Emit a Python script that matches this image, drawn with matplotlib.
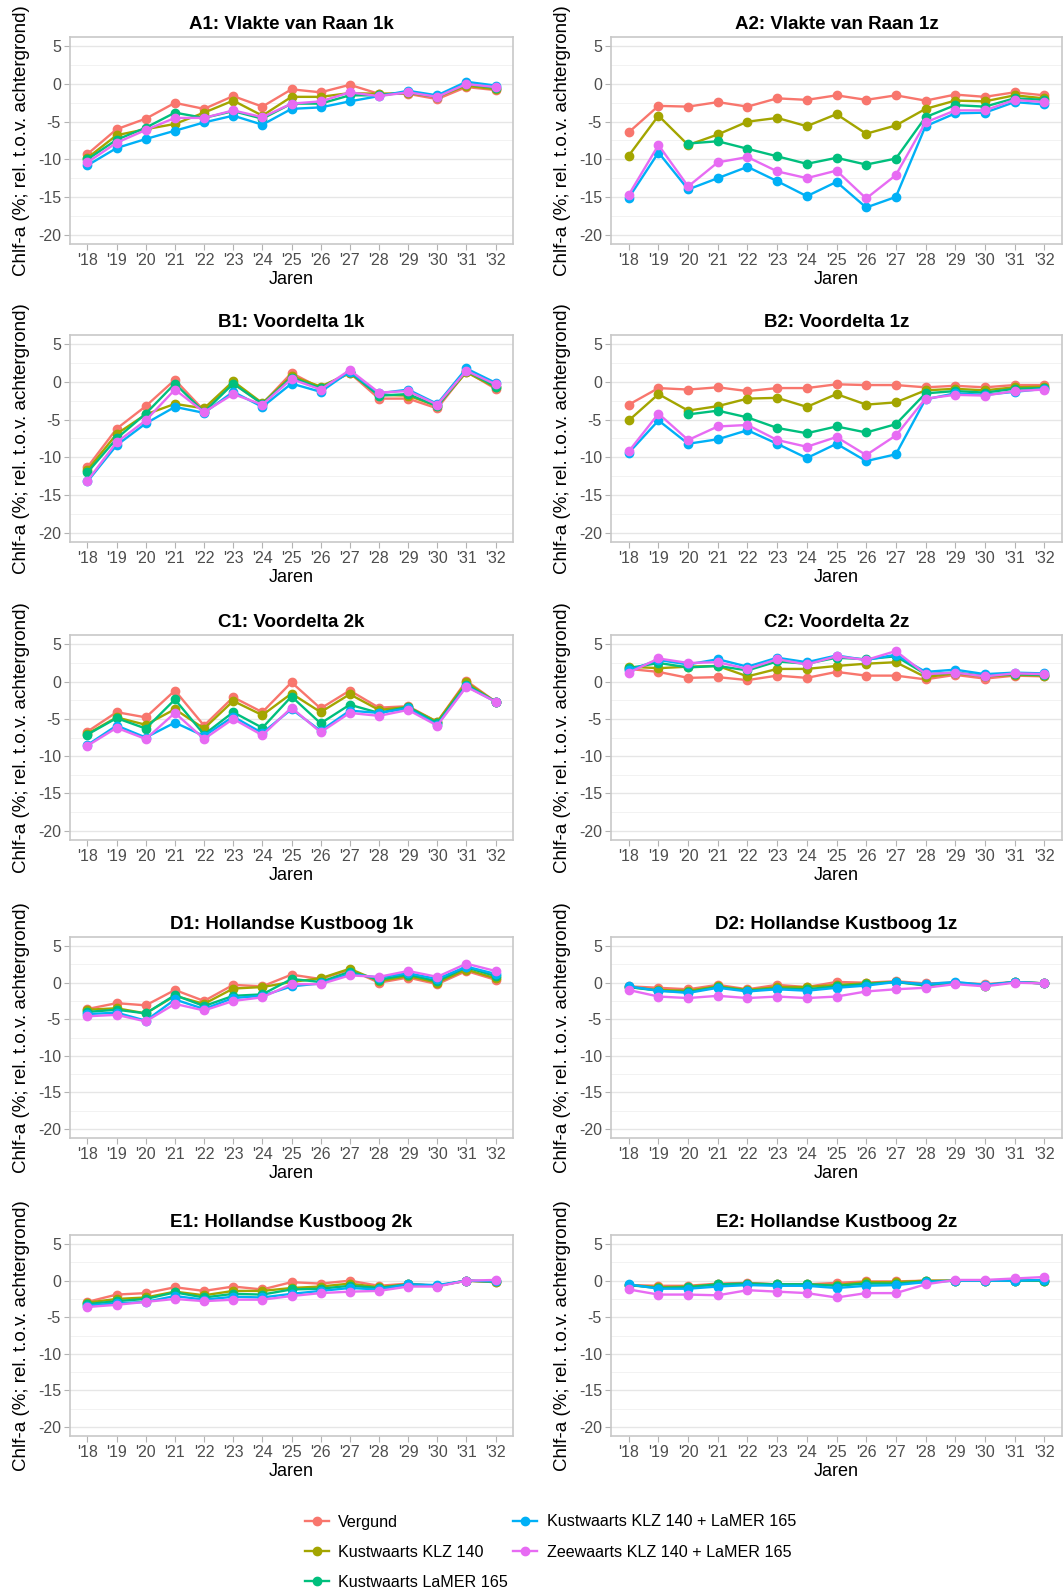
import numpy as np
import matplotlib.pyplot as plt

plt.rcParams['font.family'] = ['Liberation Sans', 'DejaVu Sans']
plt.rcParams['axes.unicode_minus'] = False

# data
years = ["'18", "'19", "'20", "'21", "'22", "'23", "'24", "'25", "'26", "'27", "'28", "'29", "'30", "'31", "'32"]
series = ["Vergund", "Kustwaarts KLZ 140", "Kustwaarts LaMER 165",
          "Kustwaarts KLZ 140 + LaMER 165", "Zeewaarts KLZ 140 + LaMER 165"]
colors = ["#F8766D", "#A3A500", "#00BF7D", "#00B0F6", "#E76BF3"]
nan = np.nan

A1 = [[-9.3, -6.0, -4.6, -2.5, -3.3, -1.6, -3.0, -0.7, -1.1, -0.1, -1.3, -1.3, -2.0, -0.4, -0.8],
      [-9.8, -6.8, -6.0, -5.3, -3.8, -2.2, -4.2, -1.7, -1.7, -1.2, -1.3, -1.2, -1.7, -0.2, -0.7],
      [-10.0, -7.4, -5.8, -3.8, -4.5, -3.6, -4.6, -2.6, -2.6, -1.5, -1.5, -1.1, -1.7, 0.0, -0.5],
      [-10.8, -8.5, -7.3, -6.2, -5.1, -4.2, -5.4, -3.3, -3.1, -2.3, -1.6, -0.9, -1.5, 0.3, -0.2],
      [-10.4, -7.8, -6.1, -4.5, -4.5, -3.5, -4.4, -2.6, -2.3, -1.1, -1.6, -1.1, -1.7, 0.0, -0.4]]
A2 = [[-6.4, -2.9, -3.0, -2.4, -3.0, -1.9, -2.1, -1.5, -2.1, -1.5, -2.2, -1.4, -1.7, -1.1, -1.5],
      [-9.5, -4.2, -8.1, -6.7, -5.0, -4.5, -5.6, -4.0, -6.6, -5.5, -3.3, -2.2, -2.3, -1.5, -1.9],
      [nan, nan, -7.9, -7.6, -8.6, -9.6, -10.6, -9.8, -10.7, -9.9, -4.4, -2.8, -3.0, -1.9, -2.1],
      [-15.1, -9.1, -14.0, -12.5, -11.0, -12.9, -14.9, -13.0, -16.4, -15.0, -5.6, -3.9, -3.8, -2.4, -2.7],
      [-14.7, -8.1, -13.6, -10.4, -9.7, -11.6, -12.5, -11.5, -15.2, -12.1, -5.1, -3.5, -3.5, -2.1, -2.4]]
B1 = [[-11.3, -6.2, -3.2, 0.3, -3.8, -0.2, -2.9, 1.2, -0.8, 1.2, -2.2, -2.2, -3.5, 1.4, -0.9],
      [-11.7, -6.9, -4.3, -2.9, -3.5, 0.1, -2.8, 0.8, -0.6, 1.2, -1.7, -1.8, -3.2, 1.3, -0.7],
      [-12.0, -7.5, -4.2, -0.2, -4.0, -0.2, -2.9, 0.6, -0.8, 1.3, -1.8, -1.6, -3.2, 1.5, -0.6],
      [-13.2, -8.4, -5.5, -3.3, -4.1, -1.3, -3.3, -0.2, -1.3, 1.4, -1.5, -1.0, -2.9, 1.8, -0.1],
      [-13.1, -8.0, -5.1, -1.0, -4.0, -1.6, -3.0, 0.4, -1.0, 1.6, -1.4, -1.2, -3.0, 1.5, -0.3]]
B2 = [[-3.0, -0.8, -1.0, -0.7, -1.2, -0.8, -0.8, -0.3, -0.4, -0.4, -0.7, -0.5, -0.7, -0.4, -0.4],
      [-5.1, -1.6, -3.8, -3.2, -2.2, -2.1, -3.3, -1.6, -3.0, -2.7, -1.1, -0.9, -1.1, -0.7, -0.6],
      [nan, nan, -4.3, -3.8, -4.7, -6.1, -6.8, -5.9, -6.7, -5.6, -1.5, -1.2, -1.4, -0.9, -0.8],
      [-9.4, -5.1, -8.2, -7.6, -6.4, -8.2, -10.1, -8.2, -10.5, -9.6, -2.3, -1.5, -1.7, -1.3, -0.9],
      [-9.2, -4.2, -7.7, -5.9, -5.7, -7.7, -8.6, -7.3, -9.7, -7.1, -2.2, -1.7, -1.8, -1.2, -1.0]]
C1 = [[-6.7, -4.1, -4.8, -1.2, -5.9, -2.1, -4.1, -0.1, -3.6, -1.2, -3.5, -3.3, -5.4, 0.1, -2.7],
      [-7.0, -4.8, -5.8, -3.7, -6.3, -2.6, -4.5, -1.6, -4.1, -1.7, -3.8, -3.4, -5.4, -0.1, -2.7],
      [-7.1, -4.9, -6.3, -2.4, -7.1, -4.1, -6.2, -2.0, -5.6, -3.1, -4.2, -3.4, -5.6, -0.4, -2.7],
      [-8.5, -5.9, -7.5, -5.5, -7.3, -4.7, -6.9, -3.7, -6.6, -3.9, -4.2, -3.6, -5.8, -0.6, -2.7],
      [-8.6, -6.2, -7.7, -4.2, -7.7, -5.0, -7.2, -3.5, -6.8, -4.2, -4.6, -3.8, -5.9, -0.7, -2.7]]
C2 = [[1.7, 1.3, 0.5, 0.6, 0.2, 0.8, 0.5, 1.3, 0.8, 0.8, 0.3, 0.9, 0.4, 0.8, 0.7],
      [2.0, 1.8, 2.0, 2.1, 0.7, 1.7, 1.7, 2.1, 2.4, 2.6, 0.6, 1.1, 0.7, 0.9, 0.8],
      [1.8, 2.5, 1.9, 2.1, 1.5, 2.7, 2.4, 3.2, 3.0, 3.4, 1.0, 1.2, 0.8, 1.0, 0.9],
      [1.5, 2.9, 2.3, 3.0, 2.0, 3.2, 2.6, 3.5, 2.9, 3.6, 1.3, 1.6, 1.0, 1.2, 1.1],
      [1.2, 3.1, 2.5, 2.6, 1.7, 3.0, 2.3, 3.4, 2.9, 4.1, 1.0, 1.2, 0.7, 1.1, 1.0]]
D1 = [[-3.6, -2.8, -3.1, -1.0, -2.5, -0.3, -0.5, 1.1, 0.5, 1.8, 0.0, 0.7, -0.2, 1.6, 0.4],
      [-3.7, -3.5, -4.2, -1.8, -2.9, -0.8, -0.6, 0.1, 0.6, 1.9, 0.2, 0.9, 0.0, 1.8, 0.6],
      [-4.0, -3.7, -4.2, -1.7, -3.2, -1.8, -1.6, 0.5, 0.1, 1.5, 0.4, 1.1, 0.2, 2.1, 0.9],
      [-4.3, -4.1, -5.2, -2.3, -3.6, -2.1, -1.8, -0.5, -0.1, 1.2, 0.7, 1.3, 0.5, 2.2, 1.2],
      [-4.6, -4.4, -5.3, -2.9, -3.8, -2.5, -2.0, -0.2, -0.2, 1.0, 0.8, 1.6, 0.8, 2.6, 1.6]]
D2 = [[-0.5, -0.7, -0.9, -0.3, -0.9, -0.3, -0.6, 0.1, 0.0, 0.2, -0.1, 0.0, -0.2, 0.1, -0.1],
      [-0.6, -1.0, -1.1, -0.5, -1.0, -0.6, -0.6, -0.3, -0.1, 0.1, -0.3, 0.0, -0.4, 0.1, -0.1],
      [-0.6, -1.1, -1.3, -0.6, -1.1, -0.8, -0.9, -0.5, -0.2, 0.1, -0.4, 0.0, -0.4, 0.1, -0.1],
      [-0.5, -1.1, -1.4, -0.7, -1.2, -0.9, -1.1, -0.7, -0.4, 0.1, -0.2, 0.1, -0.3, 0.1, -0.1],
      [-1.0, -1.9, -2.1, -1.8, -2.1, -1.9, -2.1, -1.9, -1.2, -0.9, -0.7, -0.2, -0.5, 0.0, -0.1]]
E1 = [[-2.9, -1.9, -1.7, -0.9, -1.4, -0.8, -1.2, -0.2, -0.4, 0.0, -0.7, -0.4, -0.7, 0.0, -0.2],
      [-3.0, -2.5, -2.3, -1.5, -2.0, -1.4, -1.4, -1.0, -0.8, -0.4, -0.9, -0.5, -0.7, 0.0, -0.2],
      [-3.2, -2.8, -2.5, -1.6, -2.3, -1.8, -1.9, -1.2, -1.1, -0.7, -1.0, -0.5, -0.7, 0.0, -0.1],
      [-3.4, -3.1, -2.9, -2.1, -2.6, -2.2, -2.3, -1.8, -1.4, -1.0, -1.2, -0.5, -0.6, 0.0, -0.1],
      [-3.6, -3.3, -2.9, -2.5, -2.8, -2.6, -2.6, -2.1, -1.7, -1.5, -1.4, -0.8, -0.8, 0.0, 0.1]]
E2 = [[-0.6, -0.7, -0.7, -0.4, -0.3, -0.5, -0.5, -0.3, -0.1, -0.1, 0.0, 0.0, 0.0, 0.0, 0.0],
      [-0.6, -0.9, -0.8, -0.5, -0.4, -0.5, -0.5, -0.6, -0.2, -0.2, 0.0, 0.0, 0.0, 0.0, 0.0],
      [-0.6, -1.0, -0.9, -0.5, -0.4, -0.5, -0.5, -0.7, -0.4, -0.4, -0.1, 0.0, 0.0, 0.0, 0.0],
      [-0.5, -1.1, -1.1, -0.8, -0.6, -0.7, -0.7, -1.0, -0.7, -0.6, -0.2, 0.0, 0.0, 0.0, 0.1],
      [-1.2, -1.9, -1.9, -2.0, -1.3, -1.5, -1.7, -2.3, -1.7, -1.7, -0.5, 0.1, 0.1, 0.3, 0.5]]

panels = [("A1: Vlakte van Raan 1k", A1), ("A2: Vlakte van Raan 1z", A2),
          ("B1: Voordelta 1k", B1), ("B2: Voordelta 1z", B2),
          ("C1: Voordelta 2k", C1), ("C2: Voordelta 2z", C2),
          ("D1: Hollandse Kustboog 1k", D1), ("D2: Hollandse Kustboog 1z", D2),
          ("E1: Hollandse Kustboog 2k", E1), ("E2: Hollandse Kustboog 2z", E2)]

W, H = 1064, 1594
fig = plt.figure(figsize=(W / 100, H / 100), dpi=100)

cols = [(70, 513), (611, 1062)]
rows = [(37, 244), (335, 542), (635, 840), (937, 1138), (1235, 1436)]

x = np.arange(len(years))
for i, (title, data) in enumerate(panels):
    x0, x1 = cols[i % 2]
    y0, y1 = rows[i // 2]
    ax = fig.add_axes([x0 / W, 1 - y1 / H, (x1 - x0) / W, (y1 - y0) / H])
    for vals, c, name in zip(data, colors, series):
        ax.plot(x, vals, '-o', color=c, lw=1.7, ms=6, label=name)
    ax.set_xlim(-0.6, 14.6)
    ax.set_ylim(-21.25, 6.25)
    ax.set_xticks(x)
    ax.set_xticklabels(years)
    ax.set_yticks([5, 0, -5, -10, -15, -20])
    ax.set_yticks([2.5, -2.5, -7.5, -12.5, -17.5], minor=True)
    ax.grid(axis='y', which='major', color='#E6E6E6', lw=1.0)
    ax.grid(axis='y', which='minor', color='#F0F0F0', lw=0.6)
    ax.set_axisbelow(True)
    for s in ax.spines.values():
        s.set_color('#C8C8C8')
        s.set_linewidth(1.2)
    ax.tick_params(axis='both', which='major', colors='#B3B3B3', labelcolor='#4D4D4D',
                   labelsize=11.5, length=4, width=0.8, pad=2.5)
    ax.tick_params(axis='y', which='minor', length=0)
    ax.set_title(title, fontsize=13.5, fontweight='bold', pad=6)
    ax.set_xlabel("Jaren", fontsize=13, labelpad=2)
    ax.set_ylabel("Chlf-a (%; rel. t.o.v. achtergrond)", fontsize=13.5, labelpad=6)

handles, labels = ax.get_legend_handles_labels()
fig.legend(handles, labels, loc='upper left', bbox_to_anchor=(290 / W, 1 - 1500 / H),
           ncol=2, frameon=False, fontsize=11.6, handlelength=1.5, handletextpad=0.6,
           columnspacing=0.3, labelspacing=0.95)

fig.savefig("out.png", dpi=100)
